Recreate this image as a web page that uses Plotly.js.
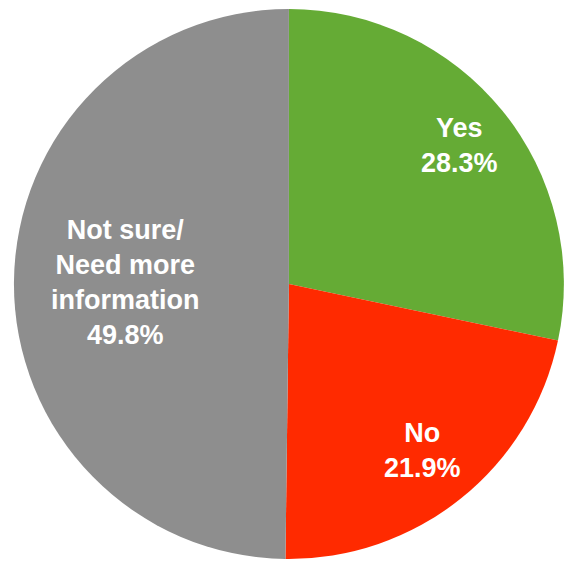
<!DOCTYPE html>
<html><head><meta charset="utf-8">
<script src="https://cdn.plot.ly/plotly-3.0.1.min.js"></script>
<style>html,body{margin:0;padding:0;background:#fff;}#chart{width:564px;height:566px;}</style>
</head><body><div id="chart"></div>
<script>
const categories = ["Yes", "No", "Not sure/<br>Need more<br>information"];
const values = [28.3, 21.9, 49.8];
const colors = ["#65ab35", "#ff2a00", "#8e8e8e"];
const labelRadius = [0.80, 0.775, 0.596];

const W = 564, H = 566;
const domX = [0.0245, 1], domY = [0.0124, 0.984];
const rPx = Math.min((domX[1]-domX[0])*W, (domY[1]-domY[0])*H) / 2;
const cx = (domX[0]+domX[1])/2, cy = (domY[0]+domY[1])/2;
const total = values.reduce((a, b) => a + b, 0);
let cum = 0;
const annotations = values.map((v, i) => {
  const mid = (cum + v/2) / total * 2 * Math.PI;
  cum += v;
  const r = rPx * labelRadius[i];
  return {
    xref: "paper", yref: "paper",
    x: cx + r*Math.sin(mid)/W, y: cy + r*Math.cos(mid)/H,
    xanchor: "center", yanchor: "middle",
    text: categories[i] + "<br>" + v.toFixed(1) + "%",
    showarrow: false, align: "center",
    font: {family: "Liberation Sans, Arial, sans-serif", size: 27, color: "#ffffff", weight: "bold"}
  };
});

Plotly.newPlot("chart", [{
  type: "pie",
  labels: categories,
  values: values,
  textinfo: "none",
  sort: false,
  direction: "clockwise",
  rotation: 0,
  marker: {colors: colors, line: {width: 0}},
  hoverinfo: "none",
  domain: {x: domX, y: domY}
}], {
  width: W, height: H,
  margin: {l: 0, r: 0, t: 0, b: 0},
  showlegend: false,
  paper_bgcolor: "#ffffff",
  annotations: annotations
}, {displayModeBar: false, staticPlot: true});
</script></body></html>
